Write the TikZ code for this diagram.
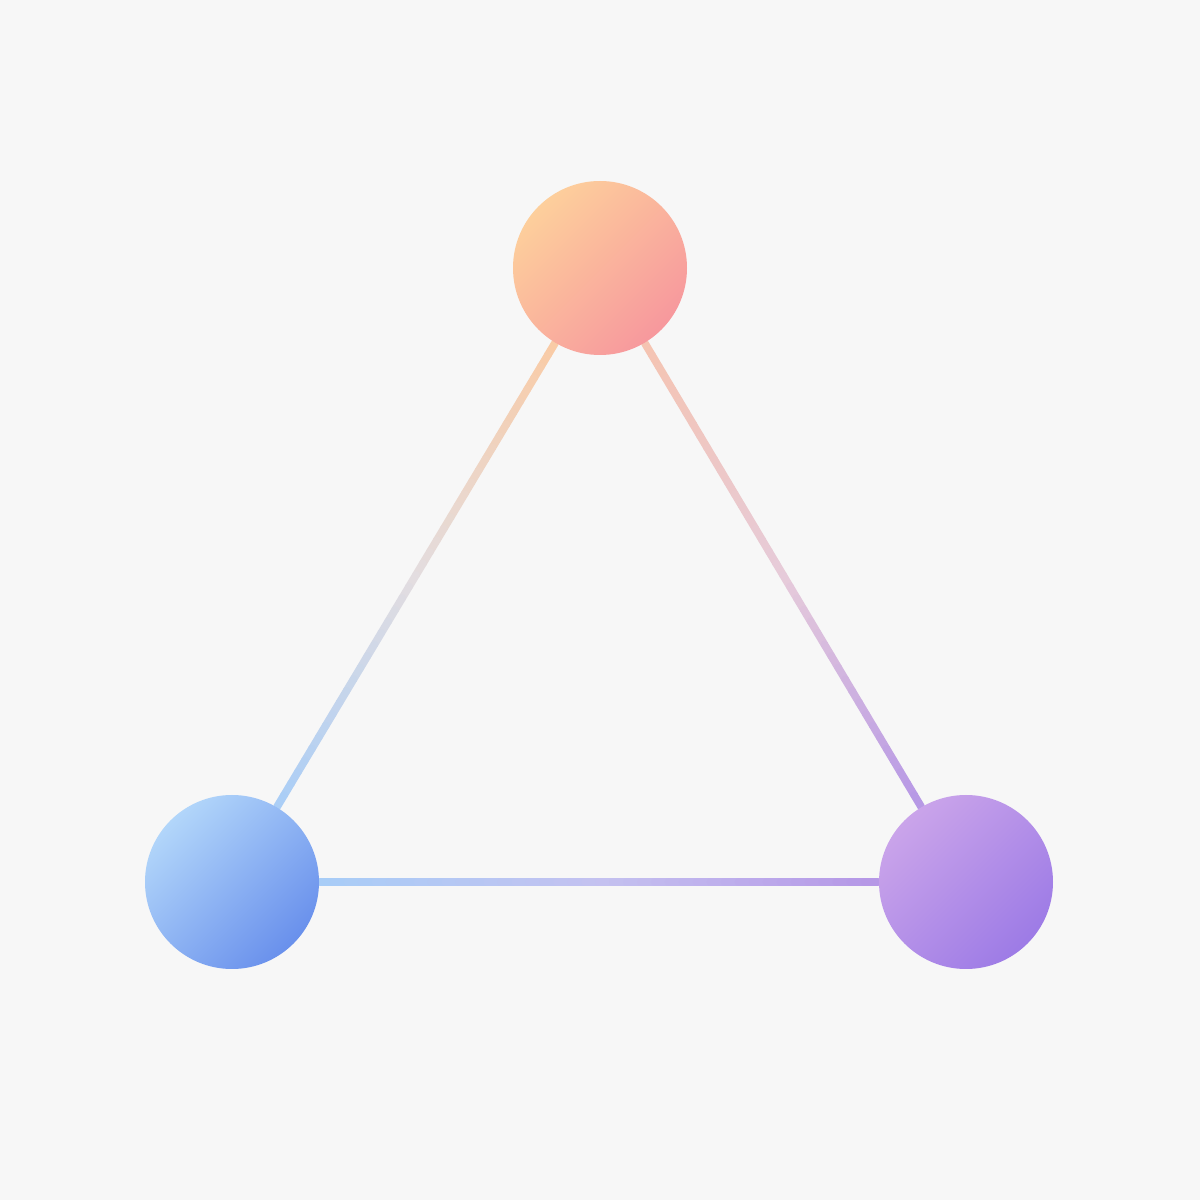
\documentclass[tikz,border=0pt]{standalone}
\usetikzlibrary{calc}
\usetikzlibrary{backgrounds}
\definecolor{paper}{HTML}{F7F7F7}
\definecolor{peachA}{HTML}{FDCF9C}
\definecolor{peachB}{HTML}{F7989D}
\definecolor{blueA}{HTML}{B2D6FA}
\definecolor{blueB}{HTML}{6990EC}
\definecolor{lilacA}{HTML}{CAA4EA}
\definecolor{lilacB}{HTML}{9D7BE6}
\definecolor{edgePeach}{HTML}{F9CBA6}
\definecolor{edgeRose}{HTML}{F5C4B2}
\definecolor{edgeSky}{HTML}{A8CDF7}
\definecolor{edgeLilac}{HTML}{B596E6}
\definecolor{midLeft}{HTML}{E3DDE0}
\definecolor{midRight}{HTML}{E6CBDA}
\definecolor{midBottom}{HTML}{C4C1F0}
\begin{document}
\begin{tikzpicture}[ball/.style 2 args={circle, minimum size=1.74cm, inner sep=0pt,
        top color=#1, bottom color=#2, shading angle=45},
        link/.style={line width=2.2pt, line cap=round}]

        \node[ball={peachA}{peachB}] (top)   at (6,9.32)    {};
        \node[ball={blueA}{blueB}]   (left)  at (2.32,3.18) {};
        \node[ball={lilacA}{lilacB}] (right) at (9.66,3.18) {};

        \begin{scope}[on background layer]
        \fill[paper] (0,0) rectangle (12,12);

        % gradient edges, drawn in small pieces
        \foreach \s/\e/\cs/\cm/\ce in {top/left/edgePeach/midLeft/edgeSky,
                                   top/right/edgeRose/midRight/edgeLilac,
                                   left/right/edgeSky/midBottom/edgeLilac} {
          \path (\s) -- (\e) coordinate[pos=0] (\s-\e-a) coordinate[pos=1] (\s-\e-b);
          \foreach \i in {0,...,39} {
            \pgfmathsetmacro\fa{\i/40}
            \pgfmathsetmacro\fb{(\i+1)/40}
            \ifnum\i<20
              \pgfmathsetmacro\mix{100-\i*5}
              \colorlet{seg}{\cs!\mix!\cm}
            \else
              \pgfmathsetmacro\mix{100-(\i-20)*5}
              \colorlet{seg}{\cm!\mix!\ce}
            \fi
            \draw[link, color=seg]
              ($(\s-\e-a)!\fa!(\s-\e-b)$) -- ($(\s-\e-a)!\fb!(\s-\e-b)$);
          }
        }
        \end{scope}

      \end{tikzpicture}
\end{document}
